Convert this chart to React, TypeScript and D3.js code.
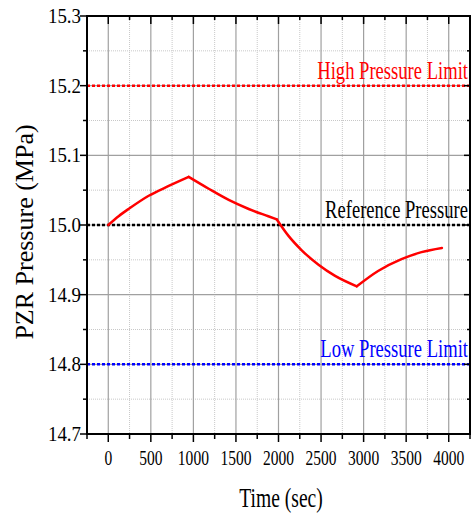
import React from "react";
import * as d3 from "d3";

const timeSec = [0, 125, 250, 475, 710, 945, 1180, 1415, 1650, 1880, 1980, 2120, 2270, 2470, 2665, 2920, 3170, 3445, 3680, 3920];
const pressure = [15.0, 15.013, 15.024, 15.042, 15.056, 15.069, 15.052, 15.036, 15.023, 15.0125, 15.008, 14.984, 14.964, 14.943, 14.927, 14.912, 14.934, 14.951, 14.961, 14.967];
// indices where the controller switches (sharp corners in the curve)
const cornerIdx = [0, 5, 10, 15, 19];

const xMajorTicks = [0, 500, 1000, 1500, 2000, 2500, 3000, 3500, 4000];
const xMinorTicks = [-250, 250, 750, 1250, 1750, 2250, 2750, 3250, 3750, 4250];
const yMajorTicks = [14.7, 14.8, 14.9, 15.0, 15.1, 15.2, 15.3];
const yMinorTicks = [14.75, 14.85, 14.95, 15.05, 15.15, 15.25];

const refLines = [
  { label: "High Pressure Limit", value: 15.2, color: "#ff0000" },
  { label: "Reference Pressure", value: 15.0, color: "#000000" },
  { label: "Low Pressure Limit", value: 14.8, color: "#0000ff" },
];

const W = 472;
const H = 515;
const L = 87;
const R = 470;
const T = 16;
const B = 434;

export default function App() {
  const x = d3.scaleLinear().domain([-250, 4250]).range([L, R]);
  const y = d3.scaleLinear().domain([14.7, 15.3]).range([B, T]);
  const line = d3
    .line<[number, number]>()
    .x((d) => x(d[0]))
    .y((d) => y(d[1]))
    .curve(d3.curveMonotoneX);
  const segments: [number, number][][] = [];
  for (let s = 0; s < cornerIdx.length - 1; s++) {
    const seg: [number, number][] = [];
    for (let i = cornerIdx[s]; i <= cornerIdx[s + 1]; i++) seg.push([timeSec[i], pressure[i]]);
    segments.push(seg);
  }
  const font = "'Liberation Serif', 'Times New Roman', serif";

  return (
    <svg
      width={W}
      height={H}
      style={{ position: "absolute", left: 0, top: 0, background: "#fff" }}
    >
      <rect x={0} y={0} width={W} height={H} fill="#fff" />
      {xMinorTicks.slice(1, -1).map((t) => (
        <line key={"xm" + t} x1={x(t)} x2={x(t)} y1={T} y2={B} stroke="#c8c8c8" strokeWidth={1} strokeDasharray="1,1" />
      ))}
      {yMinorTicks.map((t) => (
        <line key={"ym" + t} x1={L} x2={R} y1={y(t)} y2={y(t)} stroke="#c8c8c8" strokeWidth={1} strokeDasharray="1,1" />
      ))}
      {xMajorTicks.map((t) => (
        <line key={"xg" + t} x1={x(t)} x2={x(t)} y1={T} y2={B} stroke="#a0a0a0" strokeWidth={1.2} />
      ))}
      {yMajorTicks.slice(1, -1).map((t) => (
        <line key={"yg" + t} x1={L} x2={R} y1={y(t)} y2={y(t)} stroke="#a0a0a0" strokeWidth={1.2} />
      ))}
      {refLines.map((r) => (
        <g key={r.label}>
          <line x1={L} x2={R} y1={y(r.value)} y2={y(r.value)} stroke={r.color} strokeWidth={2.5} strokeDasharray="3,2" />
          <g transform={`translate(${R - 2}, ${y(r.value) - 7}) scale(0.715, 1)`}>
            <text x={0} y={0} textAnchor="end" fontFamily={font} fontSize={26} fill={r.color}>
              {r.label}
            </text>
          </g>
        </g>
      ))}
      {segments.map((seg, i) => (
        <path key={"seg" + i} d={line(seg) || ""} fill="none" stroke="#ff0000" strokeWidth={2.5} strokeLinejoin="round" strokeLinecap="round" />
      ))}
      <rect x={L} y={T} width={R - L} height={B - T} fill="none" stroke="#000" strokeWidth={2} />
      {xMajorTicks.map((t) => (
        <line key={"bt" + t} x1={x(t)} x2={x(t)} y1={B} y2={B + 8} stroke="#000" strokeWidth={1.5} />
      ))}
      {xMinorTicks.map((t) => (
        <line key={"btm" + t} x1={x(t)} x2={x(t)} y1={B} y2={B + 5} stroke="#000" strokeWidth={1.5} />
      ))}
      {xMajorTicks.map((t) => (
        <line key={"tt" + t} x1={x(t)} x2={x(t)} y1={T} y2={T + 8} stroke="#000" strokeWidth={1.5} />
      ))}
      {xMinorTicks.map((t) => (
        <line key={"ttm" + t} x1={x(t)} x2={x(t)} y1={T} y2={T + 4} stroke="#000" strokeWidth={1.5} />
      ))}
      {yMajorTicks.map((t) => (
        <line key={"lt" + t} x1={L - 7} x2={L} y1={y(t)} y2={y(t)} stroke="#000" strokeWidth={1.5} />
      ))}
      {yMinorTicks.map((t) => (
        <line key={"ltm" + t} x1={L - 4} x2={L} y1={y(t)} y2={y(t)} stroke="#000" strokeWidth={1.5} />
      ))}
      {yMajorTicks.map((t) => (
        <line key={"rt" + t} x1={R - 6} x2={R} y1={y(t)} y2={y(t)} stroke="#000" strokeWidth={1.5} />
      ))}
      {yMinorTicks.map((t) => (
        <line key={"rtm" + t} x1={R - 3} x2={R} y1={y(t)} y2={y(t)} stroke="#000" strokeWidth={1.5} />
      ))}
      {yMajorTicks.map((t) => (
        <g key={"yl" + t} transform={`translate(81, ${y(t) + 7}) scale(0.9, 1)`}>
          <text x={0} y={0} textAnchor="end" fontFamily={font} fontSize={21} fill="#000">
            {t.toFixed(1)}
          </text>
        </g>
      ))}
      {xMajorTicks.map((t) => (
        <g key={"xl" + t} transform={`translate(${x(t)}, 465) scale(0.74, 1)`}>
          <text x={0} y={0} textAnchor="middle" fontFamily={font} fontSize={21} fill="#000">
            {String(t)}
          </text>
        </g>
      ))}
      <g transform="translate(281, 507) scale(0.7, 1)">
        <text x={0} y={0} textAnchor="middle" fontFamily={font} fontSize={28} fill="#000">
          Time (sec)
        </text>
      </g>
      <text
        transform={`translate(33, ${232}) rotate(-90)`}
        textAnchor="middle"
        fontFamily={font}
        fontSize={26}
        fill="#000"
      >
        PZR Pressure (MPa)
      </text>
    </svg>
  );
}
